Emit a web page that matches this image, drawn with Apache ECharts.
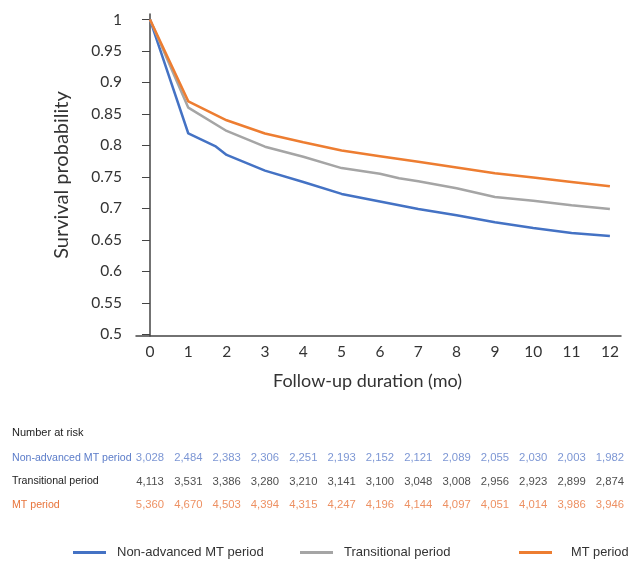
<!DOCTYPE html>
<html>
<head>
<meta charset="utf-8">
<script src="https://cdn.jsdelivr.net/npm/echarts@6/dist/echarts.min.js"></script>
<style>html,body{margin:0;padding:0;background:#fff}#c{width:631px;height:561px}</style>
</head>
<body>
<div id="c"></div>
<script>
// ---- data ----
const seriesNames = ['Non-advanced MT period', 'Transitional period', 'MT period'];
const nonAdvanced = [[0,1],[1,0.819],[1.7,0.799],[2,0.785],[3,0.760],[4,0.742],[5,0.723],[6,0.711],[7,0.699],[8,0.689],[9,0.678],[10,0.669],[11,0.661],[12,0.656]];
const transitional = [[0,1],[1,0.860],[2,0.823],[3,0.798],[4,0.782],[5,0.764],[6,0.755],[6.5,0.748],[7,0.743],[8,0.732],[9,0.718],[10,0.712],[11,0.705],[12,0.699]];
const mtPeriod = [[0,1],[1,0.870],[2,0.840],[3,0.819],[4,0.805],[5,0.792],[6,0.783],[7,0.774],[8,0.765],[9,0.756],[10,0.749],[11,0.742],[12,0.735]];
const months = [0,1,2,3,4,5,6,7,8,9,10,11,12];
const yTicks = [0.5,0.55,0.6,0.65,0.7,0.75,0.8,0.85,0.9,0.95,1];
const riskNonAdvanced = [3028,2484,2383,2306,2251,2193,2152,2121,2089,2055,2030,2003,1982];
const riskTransitional = [4113,3531,3386,3280,3210,3141,3100,3048,3008,2956,2923,2899,2874];
const riskMT = [5360,4670,4503,4394,4315,4247,4196,4144,4097,4051,4014,3986,3946];

const lineColors = ['#4472C4', '#A5A5A5', '#ED7D31'];
const textColors = ['#5B7CC9', '#222222', '#E8743B'];
const FONT = 'Lato, "Liberation Sans", sans-serif';
const TFONT = '"Liberation Sans", Arial, sans-serif';

const riskRows = [riskNonAdvanced, riskTransitional, riskMT];
const riskSeries = riskRows.map((row, r) => ({
  type: 'scatter', xAxisIndex: 1, yAxisIndex: 1, symbolSize: 0, silent: true,
  data: row.map((v, i) => [months[i], r, v]),
  label: {
    show: true, position: 'inside', color: textColors[r], fontFamily: TFONT, fontSize: 11.3,
    formatter: p => p.value[2].toLocaleString('en-US')
  }
}));

const xMin = -0.365, xMax = 12.29;
const chart = echarts.init(document.getElementById('c'), null, {renderer: 'canvas'});
chart.setOption({
  animation: false,
  title: { text: 'Number at risk', left: 12, top: 427, padding: 0,
    textStyle: { fontFamily: TFONT, fontSize: 11, fontWeight: 'normal', color: '#222' } },
  grid: [
    { left: 136, right: 10, top: 14, bottom: 225 },
    { left: 136, right: 10, top: 446.5, bottom: 44.5 }
  ],
  xAxis: [
    { type: 'value', min: xMin, max: xMax, gridIndex: 0,
      name: 'Follow-up duration (mo)', nameLocation: 'middle', nameGap: 36,
      nameTextStyle: { fontFamily: FONT, fontSize: 18, color: '#333', padding: [0, 22, 0, 0] },
      axisLine: { lineStyle: { color: '#444', width: 1.5 } },
      axisTick: { show: false }, splitLine: { show: false },
      axisLabel: { customValues: months, fontFamily: FONT, fontSize: 15.5, color: '#333', margin: 8 } },
    { type: 'value', min: xMin, max: xMax, gridIndex: 1, show: false }
  ],
  yAxis: [
    { type: 'value', min: 0.4973, max: 1.0088, gridIndex: 0,
      name: 'Survival probability', nameLocation: 'middle', nameGap: 64,
      nameTextStyle: { fontFamily: FONT, fontSize: 20, color: '#333' },
      axisLine: { show: true, lineStyle: { color: '#444', width: 1.5 } },
      axisTick: { show: true, customValues: yTicks, length: 8, lineStyle: { color: '#444' } },
      splitLine: { show: false },
      axisLabel: { customValues: yTicks, fontFamily: FONT, fontSize: 15.5, color: '#333', margin: 14,
        formatter: v => String(parseFloat(Number(v).toFixed(2))) } },
    { type: 'category', gridIndex: 1, inverse: true, data: seriesNames,
      axisLine: { show: false }, axisTick: { show: false }, splitLine: { show: false },
      axisLabel: { align: 'left', margin: 124, fontFamily: TFONT, fontSize: 10.6,
        color: (v, i) => textColors[seriesNames.indexOf(v)] } }
  ],
  legend: [
    { data: [seriesNames[0]], left: 68, top: 541, icon: 'rect', itemWidth: 33, itemHeight: 3,
      textStyle: { fontFamily: TFONT, fontSize: 13, color: '#333', padding: [0, 0, 0, 6] } },
    { data: [seriesNames[1]], left: 295, top: 541, icon: 'rect', itemWidth: 33, itemHeight: 3,
      textStyle: { fontFamily: TFONT, fontSize: 13, color: '#333', padding: [0, 0, 0, 6] } },
    { data: [seriesNames[2]], left: 514, top: 541, padding: [5, 0, 5, 5], icon: 'rect', itemWidth: 33, itemHeight: 3,
      textStyle: { fontFamily: TFONT, fontSize: 12.8, color: '#333', padding: [0, 0, 0, 14] } }
  ],
  series: [
    { name: seriesNames[0], type: 'line', data: nonAdvanced, showSymbol: false, color: lineColors[0], lineStyle: { width: 2.5, color: lineColors[0] } },
    { name: seriesNames[1], type: 'line', data: transitional, showSymbol: false, color: lineColors[1], lineStyle: { width: 2.5, color: lineColors[1] } },
    { name: seriesNames[2], type: 'line', data: mtPeriod, showSymbol: false, color: lineColors[2], lineStyle: { width: 2.5, color: lineColors[2] } }
  ].concat(riskSeries)
});
</script>
</body>
</html>
